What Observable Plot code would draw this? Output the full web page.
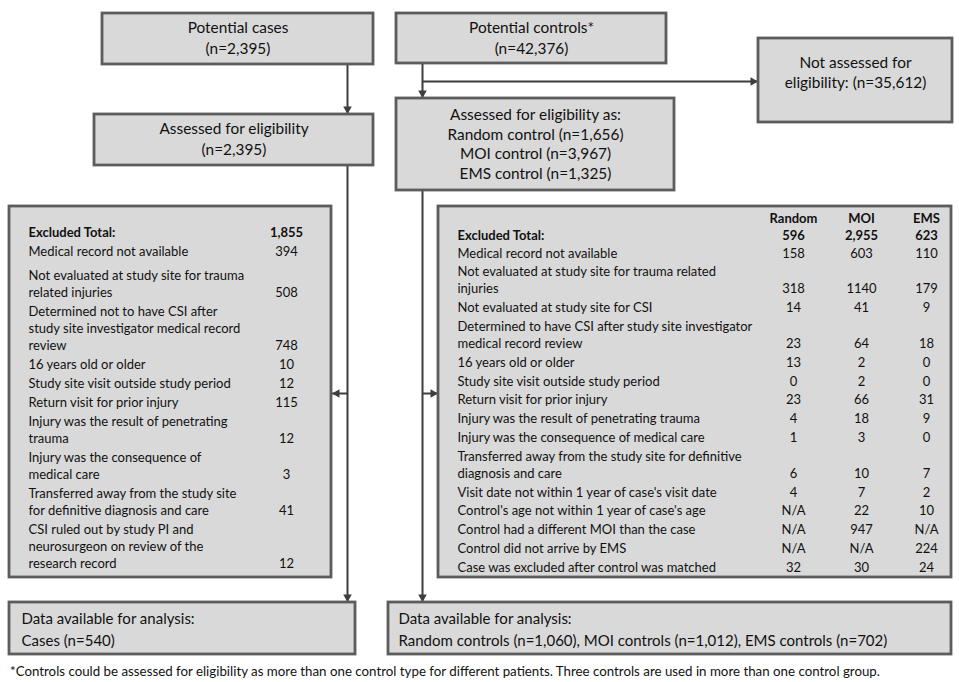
<!DOCTYPE html>
<html><head><meta charset="utf-8">
<script src="https://cdn.jsdelivr.net/npm/d3@7"></script>
<script src="https://cdn.jsdelivr.net/npm/@observablehq/plot@0.6"></script>
<style>
body{margin:0;background:#fff;}
#wrap{position:relative;width:959px;height:682px;overflow:hidden;}
#foot{position:absolute;left:10px;top:663px;font:13.3px Lato,sans-serif;color:#111;white-space:nowrap;}
</style></head><body><div id="wrap"><div id="chart"></div><div id="foot"></div></div>
<script>
// ---------------- data ----------------
const caseStages = ["Potential cases", "Assessed for eligibility"];
const caseStageCounts = [2395, 2395];
const controlStage = "Potential controls*";
const potentialControls = 42376;
const notAssessedLabel = ["Not assessed for", "eligibility:"];
const notAssessedCount = 35612;
const assessedControlsLabel = "Assessed for eligibility as:";
const controlTypes = ["Random", "MOI", "EMS"];
const assessedControlCounts = [1656, 3967, 1325];

const caseReasons = [
  "Medical record not available",
  "Not evaluated at study site for trauma\nrelated injuries",
  "Determined not to have CSI after\nstudy site investigator medical record\nreview",
  "16 years old or older",
  "Study site visit outside study period",
  "Return visit for prior injury",
  "Injury was the result of penetrating\ntrauma",
  "Injury was the consequence of\nmedical care",
  "Transferred away from the study site\nfor definitive diagnosis and care",
  "CSI ruled out by study PI and\nneurosurgeon on review of the\nresearch record"
];
const caseExcluded = [394, 508, 748, 10, 12, 115, 12, 3, 41, 12];
const caseExcludedTotal = 1855;

const controlReasons = [
  "Medical record not available",
  "Not evaluated at study site for trauma related\ninjuries",
  "Not evaluated at study site for CSI",
  "Determined to have CSI after study site investigator\nmedical record review",
  "16 years old or older",
  "Study site visit outside study period",
  "Return visit for prior injury",
  "Injury was the result of penetrating trauma",
  "Injury was the consequence of medical care",
  "Transferred away from the study site for definitive\ndiagnosis and care",
  "Visit date not within 1 year of case's visit date",
  "Control's age not within 1 year of case's age",
  "Control had a different MOI than the case",
  "Control did not arrive by EMS",
  "Case was excluded after control was matched"
];
const randomExcluded = [158, 318, 14, 23, 13, 0, 23, 4, 1, 6, 4, null, null, null, 32];
const moiExcluded    = [603, 1140, 41, 64, 2, 2, 66, 18, 3, 10, 7, 22, 947, null, 30];
const emsExcluded    = [110, 179, 9, 18, 0, 0, 31, 9, 0, 7, 2, 10, null, 224, 24];
const controlExcludedTotals = [596, 2955, 623];

const availableCases = 540;
const availableControls = [1060, 1012, 702];
const footnote = "*Controls could be assessed for eligibility as more than one control type for different patients. Three controls are used in more than one control group.";

// ---------------- layout ----------------
const W = 959, H = 660;
const FONT = "Lato, 'Open Sans', sans-serif";
const TS = 13;      // table font size
const HS = 15.4;    // box heading font size
const BS = 15;      // bottom box font size
const fmt = d3.format(",");
const B = {
  pc: {x1: 102, x2: 373, y1: 13, y2: 64},
  ac: {x1: 94, x2: 373, y1: 114, y2: 165},
  pk: {x1: 396, x2: 666, y1: 13, y2: 63},
  na: {x1: 758, x2: 952, y1: 38, y2: 122},
  ak: {x1: 396, x2: 674, y1: 98, y2: 190},
  ec: {x1: 9, x2: 331, y1: 206, y2: 577},
  ek: {x1: 438, x2: 951, y1: 206, y2: 577},
  dc: {x1: 9, x2: 355, y1: 602, y2: 654},
  dk: {x1: 388, x2: 951, y1: 602, y2: 654}
};
const boxes = Object.values(B);
const cx = b => (b.x1 + b.x2) / 2, cy = b => (b.y1 + b.y2) / 2;

// centered box titles
const titleLines = [];
function centered(b, lines, gap, shift = 0) {
  const c = cy(b) + shift, n = lines.length;
  lines.forEach((t, i) => titleLines.push({x: cx(b), y: c + (i - (n - 1) / 2) * gap, t}));
}
centered(B.pc, [caseStages[0], `(n=${fmt(caseStageCounts[0])})`], 21);
centered(B.ac, [caseStages[1], `(n=${fmt(caseStageCounts[1])})`], 21);
centered(B.pk, [controlStage, `(n=${fmt(potentialControls)})`], 21);
centered(B.na, [notAssessedLabel[0], `${notAssessedLabel[1]} (n=${fmt(notAssessedCount)})`], 20, -7);
centered(B.ak, [assessedControlsLabel, ...controlTypes.map((c, i) => `${c} control (n=${fmt(assessedControlCounts[i])})`)], 19.7);

// left-aligned bottom boxes
const leftLines = [
  {x: B.dc.x1 + 12, y: 619, t: "Data available for analysis:"},
  {x: B.dc.x1 + 12, y: 641, t: `Cases (n=${availableCases})`},
  {x: B.dk.x1 + 10, y: 619, t: "Data available for analysis:"},
  {x: B.dk.x1 + 10, y: 641, t: controlTypes.map((c, i) => `${c} controls (n=${fmt(availableControls[i])})`).join(", ")}
];

// exclusion tables
const LH = 17;
const tableText = [], tableVals = [], boldText = [];
// cases
{
  const tx = 28, vx = 286;
  boldText.push({x: tx, y: 232, t: "Excluded Total:", a: "start"});
  boldText.push({x: vx, y: 232, t: fmt(caseExcludedTotal), a: "middle"});
  let y = 251;
  caseReasons.forEach((r, i) => {
    const lines = r.split("\n");
    lines.forEach((l, j) => tableText.push({x: tx, y: y + j * LH, t: l}));
    tableVals.push({x: vx, y: y + (lines.length - 1) * LH, t: String(caseExcluded[i])});
    y += lines.length * LH + 2 + (i === 0 ? 5 : 0);
  });
}
// controls
{
  const tx = 457, cols = [793, 861, 926];
  const series = [randomExcluded, moiExcluded, emsExcluded];
  controlTypes.forEach((c, k) => {
    boldText.push({x: cols[k], y: 218, t: c, a: "middle"});
    boldText.push({x: cols[k], y: 235, t: fmt(controlExcludedTotals[k]), a: "middle"});
  });
  boldText.push({x: tx, y: 235, t: "Excluded Total:", a: "start"});
  let y = 253;
  controlReasons.forEach((r, i) => {
    const lines = r.split("\n");
    lines.forEach((l, j) => tableText.push({x: tx, y: y + j * LH, t: l}));
    series.forEach((s, k) => tableVals.push({x: cols[k], y: y + (lines.length - 1) * LH, t: s[i] == null ? "N/A" : String(s[i])}));
    y += lines.length * LH + 1.8;
  });
}

// connectors
const armY = 393;
const links = [
  {x1: 347, y1: B.pc.y2, x2: 347, y2: B.ac.y1},
  {x1: 347, y1: B.ac.y2, x2: 347, y2: B.dc.y1},
  {x1: 347, y1: armY, x2: B.ec.x2, y2: armY},
  {x1: 422, y1: B.pk.y2, x2: 422, y2: B.ak.y1},
  {x1: 422, y1: 81, x2: B.na.x1, y2: 81},
  {x1: 422, y1: B.ak.y2, x2: 422, y2: B.dk.y1},
  {x1: 422, y1: armY, x2: B.ek.x1, y2: armY}
];
const off = 5.5;
const heads = links.map(d => {
  const dx = Math.sign(d.x2 - d.x1), dy = Math.sign(d.y2 - d.y1);
  return {x: d.x2 - dx * off, y: d.y2 - dy * off, rot: dy > 0 ? 180 : dx > 0 ? 90 : -90};
});

const ink = "#111";
const chart = Plot.plot({
  width: W, height: H, margin: 0,
  x: {domain: [0, W], range: [0, W], axis: null},
  y: {domain: [0, H], range: [0, H], axis: null},
  style: {background: "#fff", overflow: "visible"},
  marks: [
    Plot.link(links, {x1: "x1", y1: "y1", x2: "x2", y2: "y2", stroke: "#3d3d3d", strokeWidth: 2}),
    Plot.dot(heads, {x: "x", y: "y", symbol: "triangle", r: 3.2, fill: "#3d3d3d", stroke: "none", rotate: "rot"}),
    Plot.rect(boxes, {x1: "x1", x2: "x2", y1: "y1", y2: "y2", fill: "#d9d9d9", stroke: "#5c5c5c", strokeWidth: 2.8}),
    Plot.text(titleLines, {x: "x", y: "y", text: "t", fontSize: HS, fontFamily: FONT, fill: ink, textAnchor: "middle", lineAnchor: "middle"}),
    Plot.text(leftLines, {x: "x", y: "y", text: "t", fontSize: BS, fontFamily: FONT, fill: ink, textAnchor: "start", lineAnchor: "middle"}),
    Plot.text(tableText, {x: "x", y: "y", text: "t", fontSize: TS, fontFamily: FONT, fill: ink, textAnchor: "start", lineAnchor: "middle"}),
    Plot.text(tableVals, {x: "x", y: "y", text: "t", fontSize: TS, fontFamily: FONT, fill: ink, textAnchor: "middle", lineAnchor: "middle"}),
    Plot.text(boldText.filter(d => d.a === "start"), {x: "x", y: "y", text: "t", fontSize: TS, fontWeight: "bold", fontFamily: FONT, fill: ink, textAnchor: "start", lineAnchor: "middle"}),
    Plot.text(boldText.filter(d => d.a === "middle"), {x: "x", y: "y", text: "t", fontSize: TS, fontWeight: "bold", fontFamily: FONT, fill: ink, textAnchor: "middle", lineAnchor: "middle"})
  ]
});
document.getElementById("chart").append(chart);
document.getElementById("foot").textContent = footnote;
</script></body></html>
